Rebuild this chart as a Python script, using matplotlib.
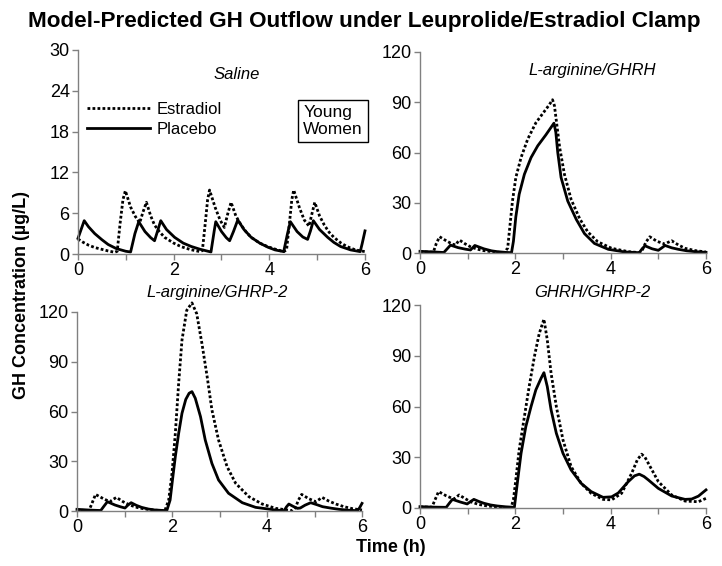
import matplotlib

matplotlib.use("Agg")
import matplotlib.pyplot as plt
from matplotlib import font_manager
from matplotlib.lines import Line2D

plt.rcParams["font.family"] = ["Liberation Sans", "DejaVu Sans"]

# --- data (time in h, GH in ug/L) ---
saline_t_pla = [0.00, 0.13, 0.22, 0.35, 0.50, 0.63, 0.80, 1.00, 1.10, 1.19, 1.27, 1.40, 1.52, 1.60,
                1.66, 1.73, 1.85, 2.02, 2.20, 2.37, 2.55, 2.72, 2.78, 2.85, 2.88, 3.00, 3.10, 3.17,
                3.25, 3.34, 3.47, 3.62, 3.80, 3.97, 4.12, 4.30, 4.38, 4.44, 4.58, 4.70, 4.80, 4.86,
                4.92, 5.05, 5.22, 5.35, 5.49, 5.70, 5.90, 5.94, 6.00]
saline_pla = [2.3, 4.9, 4.0, 3.0, 2.1, 1.4, 0.8, 0.4, 0.3, 3.0, 4.75, 3.3, 2.4, 1.95,
              3.3, 4.9, 3.6, 2.45, 1.6, 1.1, 0.7, 0.4, 0.3, 3.5, 4.75, 3.3, 2.4, 1.95,
              3.3, 5.0, 3.6, 2.45, 1.6, 1.0, 0.6, 0.35, 3.0, 4.75, 3.3, 2.5, 2.15, 3.4,
              4.9, 3.6, 2.45, 1.7, 1.1, 0.6, 0.35, 1.5, 3.4]
saline_t_e2 = [0.00, 0.10, 0.22, 0.35, 0.49, 0.63, 0.77, 0.82, 0.88, 0.94, 0.99, 1.10, 1.20, 1.29,
               1.36, 1.43, 1.52, 1.60, 1.70, 1.81, 2.00, 2.16, 2.35, 2.55, 2.60, 2.66, 2.71, 2.75,
               2.87, 2.97, 3.06, 3.13, 3.20, 3.30, 3.41, 3.52, 3.62, 3.80, 3.97, 4.15, 4.30, 4.36,
               4.42, 4.47, 4.51, 4.63, 4.73, 4.83, 4.89, 4.95, 5.05, 5.15, 5.25, 5.35, 5.50, 5.63,
               5.80, 6.00]
saline_e2 = [2.2, 1.75, 1.3, 0.95, 0.7, 0.45, 0.25, 0.4, 4.5, 8.0, 9.3, 6.9, 5.5, 4.6,
             6.2, 7.6, 5.6, 4.25, 3.3, 2.45, 1.6, 1.07, 0.65, 0.35, 0.5, 4.5, 8.0, 9.4,
             6.8, 5.0, 3.9, 5.9, 7.6, 5.6, 4.25, 3.2, 2.45, 1.6, 1.07, 0.65, 0.35, 0.6,
             4.5, 8.0, 9.4, 6.8, 5.0, 4.1, 5.9, 7.6, 5.6, 4.25, 3.2, 2.45, 1.6, 1.07,
             0.6, 0.35]

ghrh_t_pla = [0.00, 0.30, 0.50, 0.57, 0.64, 0.80, 0.95, 1.06, 1.10, 1.15, 1.34, 1.50, 1.62, 1.80,
              1.92, 1.96, 2.01, 2.08, 2.19, 2.33, 2.47, 2.64, 2.81, 2.85, 2.89, 2.96, 3.10, 3.28,
              3.45, 3.66, 3.95, 4.30, 4.60, 4.66, 4.72, 4.87, 5.00, 5.07, 5.14, 5.28, 5.42, 5.60,
              5.77, 6.00]
ghrh_pla = [1.0, 0.6, 0.3, 2.5, 4.7, 3.2, 2.3, 1.8, 3.0, 4.5, 2.5, 1.3, 0.8, 0.35,
            0.2, 7.0, 21.5, 35.0, 47.0, 57.0, 64.0, 70.5, 77.5, 72.0, 60.0, 45.0, 31.0, 20.0,
            11.6, 5.7, 2.2, 0.6, 0.2, 2.5, 4.3, 2.5, 1.6, 3.0, 4.5, 3.1, 2.2, 1.3,
            0.8, 0.4]
ghrh_t_e2 = [0.00, 0.20, 0.28, 0.34, 0.41, 0.55, 0.68, 0.75, 0.79, 0.83, 0.95, 1.06, 1.20, 1.34,
             1.55, 1.77, 1.84, 1.87, 1.94, 2.01, 2.12, 2.26, 2.43, 2.61, 2.70, 2.78, 2.82, 2.86,
             2.93, 3.03, 3.17, 3.35, 3.52, 3.73, 4.02, 4.37, 4.61, 4.66, 4.74, 4.82, 4.97, 5.14,
             5.20, 5.28, 5.42, 5.56, 5.78, 6.00]
ghrh_e2 = [0.8, 0.5, 0.5, 5.5, 9.7, 7.3, 5.3, 4.8, 6.5, 7.7, 5.4, 3.7, 2.3, 1.4,
           0.6, 0.2, 3.0, 11.6, 31.0, 45.0, 57.0, 68.0, 77.7, 84.6, 88.0, 91.5, 88.0, 79.0,
           63.0, 47.0, 32.0, 20.5, 12.6, 6.7, 2.8, 0.8, 0.2, 1.5, 6.5, 9.7, 7.0, 5.3,
           6.3, 7.3, 4.8, 2.8, 1.4, 0.6]

ghrp_t_pla = [0.00, 0.30, 0.50, 0.57, 0.64, 0.80, 0.92, 1.01, 1.07, 1.14, 1.25, 1.36, 1.50, 1.64,
              1.89, 1.96, 2.01, 2.07, 2.14, 2.21, 2.29, 2.36, 2.42, 2.49, 2.60, 2.70, 2.84, 2.98,
              3.19, 3.48, 3.76, 4.18, 4.36, 4.41, 4.46, 4.55, 4.64, 4.70, 4.80, 4.92, 5.05, 5.17,
              5.35, 5.52, 5.70, 5.91, 5.95, 6.00]
ghrp_pla = [1.0, 0.5, 0.3, 3.0, 5.6, 3.6, 2.5, 1.8, 3.5, 5.0, 3.4, 2.2, 1.2, 0.6,
            0.2, 6.6, 18.7, 32.8, 46.8, 58.9, 67.3, 71.0, 72.0, 68.0, 56.9, 42.8, 28.7, 18.7,
            10.7, 5.0, 2.2, 0.6, 0.2, 2.5, 4.2, 2.8, 1.6, 1.8, 3.5, 5.0, 3.8, 2.6,
            1.7, 1.0, 0.5, 0.2, 2.0, 4.6]
ghrp_t_e2 = [0.00, 0.25, 0.30, 0.39, 0.55, 0.69, 0.76, 0.83, 0.97, 1.11, 1.27, 1.43, 1.64, 1.85,
             1.93, 2.00, 2.07, 2.14, 2.21, 2.31, 2.42, 2.52, 2.63, 2.74, 2.84, 2.98, 3.16, 3.34,
             3.62, 3.90, 4.18, 4.53, 4.60, 4.66, 4.73, 4.88, 5.03, 5.10, 5.16, 5.30, 5.45, 5.62,
             5.80, 6.00]
ghrp_e2 = [0.5, 0.3, 3.5, 10.0, 7.5, 5.6, 7.0, 8.2, 5.6, 3.6, 2.1, 1.2, 0.5, 0.2,
           6.6, 22.7, 46.8, 77.0, 103.0, 121.0, 125.5, 119.0, 101.0, 81.0, 61.0, 42.8, 26.7, 16.7,
           8.6, 4.2, 1.6, 0.2, 2.0, 6.5, 10.0, 7.4, 5.6, 7.0, 8.2, 6.0, 4.2, 2.6,
           1.4, 0.6]

combo_t_pla = [0.00, 0.30, 0.55, 0.62, 0.68, 0.85, 0.99, 1.06, 1.13, 1.24, 1.34, 1.48, 1.62, 1.80,
               1.98, 2.05, 2.12, 2.22, 2.33, 2.43, 2.54, 2.60, 2.67, 2.75, 2.86, 3.00, 3.17, 3.38,
               3.59, 3.84, 4.02, 4.16, 4.37, 4.50, 4.60, 4.70, 4.79, 5.00, 5.28, 5.56, 5.70, 5.84,
               6.00]
combo_pla = [0.8, 0.5, 0.4, 3.0, 5.1, 3.5, 2.4, 3.8, 5.1, 3.8, 2.8, 1.8, 1.2, 0.7,
             0.4, 16.6, 32.3, 48.1, 60.0, 69.8, 76.7, 80.0, 71.8, 58.0, 44.2, 32.3, 22.5, 14.6,
             9.7, 6.3, 6.6, 8.9, 15.6, 19.0, 20.0, 18.6, 16.6, 11.6, 7.1, 5.1, 5.3, 7.0,
             10.7]
combo_t_e2 = [0.00, 0.25, 0.31, 0.39, 0.55, 0.71, 0.77, 0.82, 0.95, 1.06, 1.23, 1.41, 1.65, 1.91,
              1.96, 2.01, 2.08, 2.19, 2.29, 2.40, 2.50, 2.60, 2.67, 2.75, 2.86, 3.00, 3.17, 3.38,
              3.59, 3.84, 4.02, 4.23, 4.44, 4.56, 4.65, 4.72, 4.79, 5.00, 5.28, 5.56, 5.84, 6.00]
combo_e2 = [0.6, 0.5, 4.5, 9.7, 7.2, 5.3, 6.6, 7.7, 5.5, 3.7, 2.1, 1.2, 0.5, 0.2,
            5.0, 16.6, 34.3, 54.0, 71.8, 89.5, 103.0, 111.6, 99.4, 79.7, 60.0, 40.2, 24.5, 14.6,
            8.7, 5.1, 4.8, 8.7, 20.5, 28.5, 31.8, 30.0, 26.4, 15.6, 7.7, 4.1, 3.7, 5.7]

x_ticks = [0, 2, 4, 6]
x_minor = [1, 3, 5]
saline_yticks = [0, 6, 12, 18, 24, 30]
stim_yticks = [0, 30, 60, 90, 120]

W, H = 722, 566
DOTTED = (0, (1.0, 0.8))
GRAY = "#808080"


def narrow_font():
    names = {f.name for f in font_manager.fontManager.ttflist}
    if "Liberation Sans Narrow" in names:
        return ["Liberation Sans Narrow", "DejaVu Sans"], 17
    return ["Liberation Sans", "DejaVu Sans"], 16.2


def px_axes(fig, left, right, top, bottom):
    return fig.add_axes([left / W, 1 - bottom / H, (right - left) / W, (bottom - top) / H])


def style(ax, yticks):
    ax.set_xlim(0, 6)
    ax.set_ylim(yticks[0], yticks[-1])
    ax.set_xticks(x_ticks)
    ax.set_xticks(x_minor, minor=True)
    ax.set_yticks(yticks)
    for side in ("top", "right"):
        ax.spines[side].set_visible(False)
    for side in ("left", "bottom"):
        ax.spines[side].set_color(GRAY)
        ax.spines[side].set_linewidth(1.0)
    ax.tick_params(which="both", direction="out", length=4, width=1, color=GRAY,
                   labelsize=13, pad=2)


def draw(ax, t_e2, e2, t_pla, pla):
    ax.plot(t_e2, e2, color="black", lw=2.0, linestyle=DOTTED, clip_on=False)
    ax.plot(t_pla, pla, color="black", lw=2.0, clip_on=False)


fig = plt.figure(figsize=(W / 100, H / 100), dpi=100)

ax1 = px_axes(fig, 78, 365, 50, 254)
ax2 = px_axes(fig, 420, 706, 52, 253)
ax3 = px_axes(fig, 77, 362, 312, 511)
ax4 = px_axes(fig, 420, 706, 305, 508)

draw(ax1, saline_t_e2, saline_e2, saline_t_pla, saline_pla)
draw(ax2, ghrh_t_e2, ghrh_e2, ghrh_t_pla, ghrh_pla)
draw(ax3, ghrp_t_e2, ghrp_e2, ghrp_t_pla, ghrp_pla)
draw(ax4, combo_t_e2, combo_e2, combo_t_pla, combo_pla)

style(ax1, saline_yticks)
for ax in (ax2, ax3, ax4):
    style(ax, stim_yticks)

# panel labels
ax1.text(0.554, 0.882, "Saline", transform=ax1.transAxes, ha="center", va="center",
         fontsize=12, style="italic")
ax2.text(0.601, 0.91, "L-arginine/GHRH", transform=ax2.transAxes, ha="center", va="center",
         fontsize=12, style="italic")
ax3.text(0.491, 1.10, "L-arginine/GHRP-2", transform=ax3.transAxes, ha="center", va="center",
         fontsize=12, style="italic")
ax4.text(0.601, 1.064, "GHRH/GHRP-2", transform=ax4.transAxes, ha="center", va="center",
         fontsize=12, style="italic")

handles = [Line2D([], [], color="black", lw=2.0, linestyle=DOTTED),
           Line2D([], [], color="black", lw=2.0)]
ax1.legend(handles, ["Estradiol", "Placebo"], loc="upper left", bbox_to_anchor=(0.031, 0.745),
           frameon=False, fontsize=12, handlelength=3.8, handletextpad=0.4,
           labelspacing=0.3, borderpad=0, borderaxespad=0)

ax1.text(0.785, 0.652, "Young\nWomen", transform=ax1.transAxes, ha="left", va="center",
         fontsize=12.5, linespacing=1.15,
         bbox=dict(boxstyle="square,pad=0.3", facecolor="white", edgecolor="black", lw=1.0))

title_family, title_size = narrow_font()
fig.text(0.505, 1 - 22 / H, "Model-Predicted GH Outflow under Leuprolide/Estradiol Clamp",
         ha="center", va="center", fontsize=title_size, fontweight="bold", family=title_family)
fig.text(22 / W, 1 - 295 / H, "GH Concentration (µg/L)", rotation=90, ha="center",
         va="center", fontsize=13, fontweight="bold")
fig.text(391 / W, 1 - 548 / H, "Time (h)", ha="center", va="center", fontsize=13,
         fontweight="bold")

fig.savefig("out.png", dpi=100)
plt.close(fig)
